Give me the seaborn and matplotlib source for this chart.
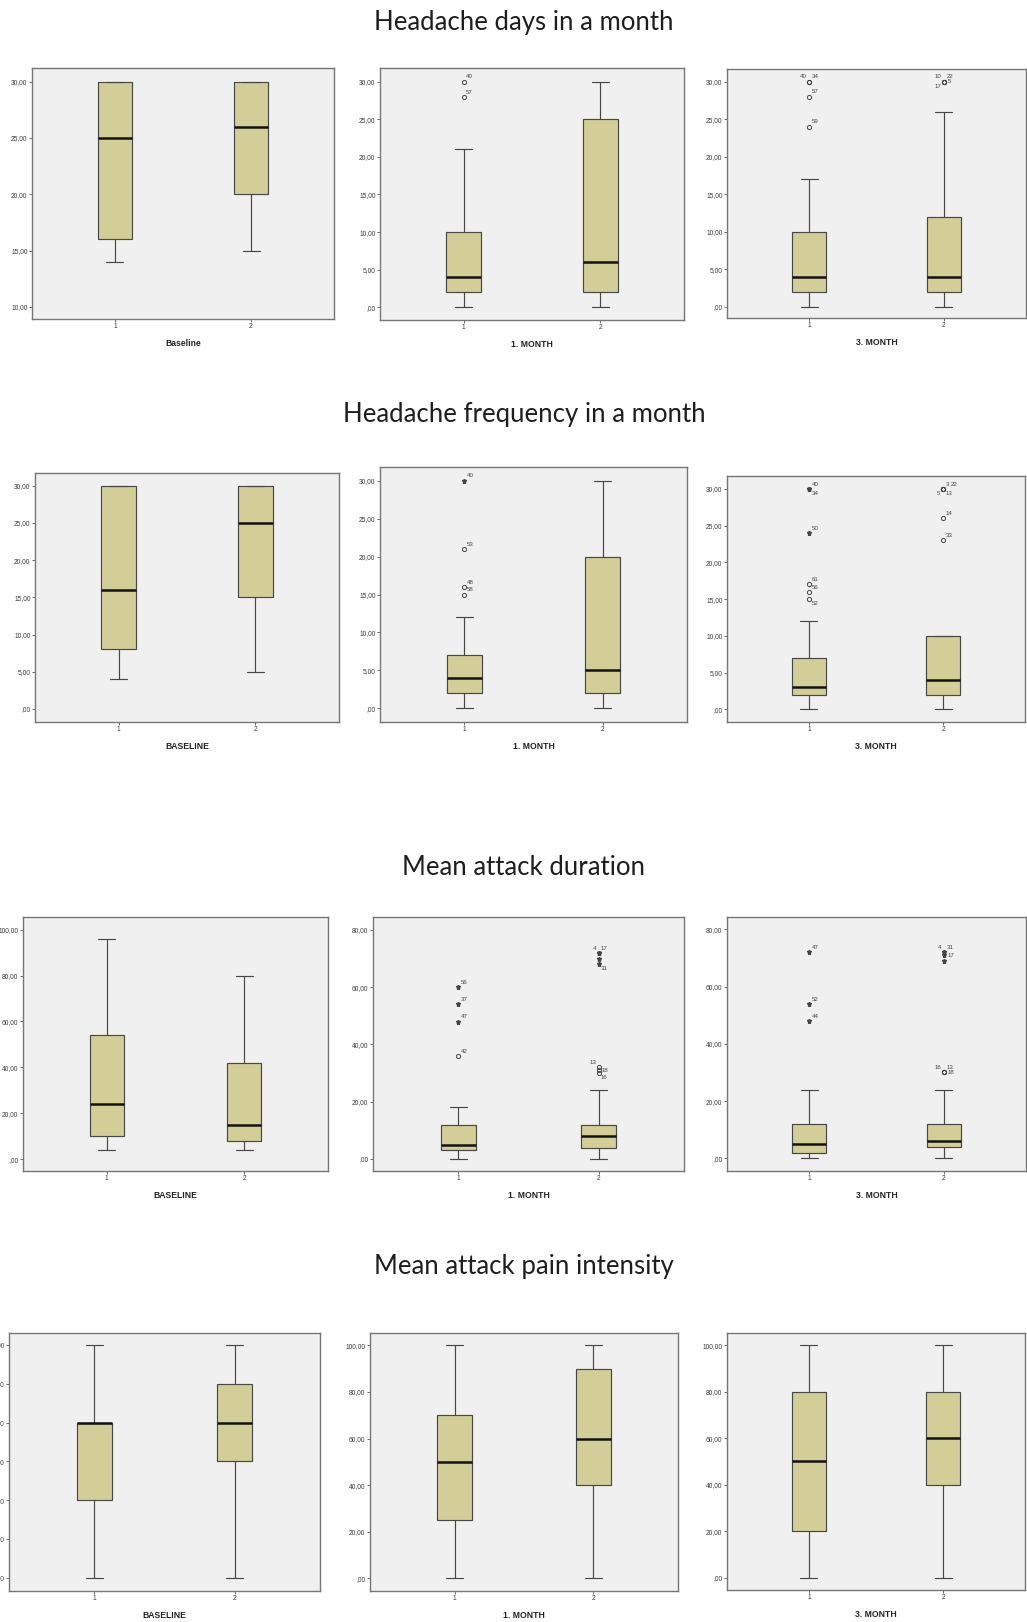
import matplotlib
matplotlib.use("Agg")
import matplotlib.pyplot as plt
from matplotlib.ticker import FixedLocator, FuncFormatter
import pandas as pd
import seaborn as sns

# ---------------------------------------------------------------------------
# Five-number summaries per group: [min, Q1, median, Q3, max]
# ---------------------------------------------------------------------------
GROUPS = ["1", "2"]

# Headache days in a month
days_base_g1 = [14, 16, 25, 30, 30]
days_base_g2 = [15, 20, 26, 30, 30]
days_m1_g1 = [0, 2, 4, 10, 21]
days_m1_g2 = [0, 2, 6, 25, 30]
days_m3_g1 = [0, 2, 4, 10, 17]
days_m3_g2 = [0, 2, 4, 12, 26]

# Headache frequency in a month
freq_base_g1 = [4, 8, 16, 30, 30]
freq_base_g2 = [5, 15, 25, 30, 30]
freq_m1_g1 = [0, 2, 4, 7, 12]
freq_m1_g2 = [0, 2, 5, 20, 30]
freq_m3_g1 = [0, 2, 3, 7, 12]
freq_m3_g2 = [0, 2, 4, 10, 10]

# Mean attack duration
dur_base_g1 = [4, 10, 24, 54, 96]
dur_base_g2 = [4, 8, 15, 42, 80]
dur_m1_g1 = [0, 3, 5, 12, 18]
dur_m1_g2 = [0, 4, 8, 12, 24]
dur_m3_g1 = [0, 2, 5, 12, 24]
dur_m3_g2 = [0, 4, 6, 12, 24]

# Mean attack pain intensity
pain_base_g1 = [4, 6, 8, 8, 10]
pain_base_g2 = [4, 7, 8, 9, 10]
pain_m1_g1 = [0, 25, 50, 70, 100]
pain_m1_g2 = [0, 40, 60, 90, 100]
pain_m3_g1 = [0, 20, 50, 80, 100]
pain_m3_g2 = [0, 40, 60, 80, 100]

# Outlying cases: (group, value, case number, kind) -- "o" mild, "*" extreme
days_m1_out = [("1", 30, "40", "o"), ("1", 28, "57", "o")]
days_m3_out = [("1", 30, "40", "o"), ("1", 30, "34", "o"), ("1", 28, "57", "o"),
               ("1", 24, "59", "o"),
               ("2", 30, "10", "o"), ("2", 30, "22", "o"), ("2", 30, "17", "o"),
               ("2", 30, "5", "o")]
freq_m1_out = [("1", 30, "40", "*"), ("1", 21, "53", "o"), ("1", 16, "48", "o"),
               ("1", 15, "58", "o")]
freq_m3_out = [("1", 30, "40", "*"), ("1", 30, "34", "*"), ("1", 24, "50", "*"),
               ("1", 17, "61", "o"), ("1", 16, "56", "o"), ("1", 15, "52", "o"),
               ("2", 30, "3", "o"), ("2", 30, "22", "o"), ("2", 30, "5", "o"),
               ("2", 30, "13", "o"), ("2", 26, "14", "o"), ("2", 23, "33", "o")]
dur_m1_out = [("1", 60, "56", "*"), ("1", 54, "37", "*"), ("1", 48, "47", "*"),
              ("1", 36, "42", "o"),
              ("2", 72, "4", "*"), ("2", 72, "17", "*"), ("2", 70, "", "*"),
              ("2", 68, "31", "*"), ("2", 32, "13", "o"), ("2", 31, "18", "o"),
              ("2", 30, "16", "o")]
dur_m3_out = [("1", 72, "47", "*"), ("1", 54, "52", "*"), ("1", 48, "44", "*"),
              ("2", 72, "4", "*"), ("2", 72, "31", "*"), ("2", 71, "17", "*"),
              ("2", 69, "", "*"), ("2", 30, "16", "o"), ("2", 30, "13", "o"),
              ("2", 30, "18", "o")]

# Row titles and x-axis labels
ROW_TITLES = ["Headache days in a month", "Headache frequency in a month",
              "Mean attack duration", "Mean attack pain intensity"]
X_LABELS = [["Baseline", "1. MONTH", "3. MONTH"],
            ["BASELINE", "1. MONTH", "3. MONTH"],
            ["BASELINE", "1. MONTH", "3. MONTH"],
            ["BASELINE", "1. MONTH", "3. MONTH"]]

# Y tick values
ticks_days_base = [10, 15, 20, 25, 30]
ticks_0_30 = [0, 5, 10, 15, 20, 25, 30]
ticks_0_100 = [0, 20, 40, 60, 80, 100]
ticks_0_80 = [0, 20, 40, 60, 80]
ticks_pain_base = [4, 5, 6, 7, 8, 9, 10]

PANELS = [
    # key, row, col, group 1, group 2, outliers, y ticks
    ("days_base", 0, 0, days_base_g1, days_base_g2, [], ticks_days_base),
    ("days_m1", 0, 1, days_m1_g1, days_m1_g2, days_m1_out, ticks_0_30),
    ("days_m3", 0, 2, days_m3_g1, days_m3_g2, days_m3_out, ticks_0_30),
    ("freq_base", 1, 0, freq_base_g1, freq_base_g2, [], ticks_0_30),
    ("freq_m1", 1, 1, freq_m1_g1, freq_m1_g2, freq_m1_out, ticks_0_30),
    ("freq_m3", 1, 2, freq_m3_g1, freq_m3_g2, freq_m3_out, ticks_0_30),
    ("dur_base", 2, 0, dur_base_g1, dur_base_g2, [], ticks_0_100),
    ("dur_m1", 2, 1, dur_m1_g1, dur_m1_g2, dur_m1_out, ticks_0_80),
    ("dur_m3", 2, 2, dur_m3_g1, dur_m3_g2, dur_m3_out, ticks_0_80),
    ("pain_base", 3, 0, pain_base_g1, pain_base_g2, [], ticks_pain_base),
    ("pain_m1", 3, 1, pain_m1_g1, pain_m1_g2, [], ticks_0_100),
    ("pain_m3", 3, 2, pain_m3_g1, pain_m3_g2, [], ticks_0_100),
]

# ---------------------------------------------------------------------------
# Layout (pixels on a 1027 x 1622 canvas): left, top, right, bottom
# ---------------------------------------------------------------------------
W, H, DPI = 1027, 1622, 100
FRAMES = {
    (0, 0): (32, 68, 334, 319), (0, 1): (380, 68, 684, 320), (0, 2): (727, 69, 1026, 318),
    (1, 0): (35, 473, 339, 722), (1, 1): (380, 467, 687, 722), (1, 2): (727, 476, 1025, 722),
    (2, 0): (23, 917, 328, 1171), (2, 1): (373, 917, 684, 1171), (2, 2): (727, 917, 1026, 1171),
    (3, 0): (9, 1333, 320, 1591), (3, 1): (370, 1333, 678, 1591), (3, 2): (727, 1333, 1025, 1590),
}
YLIMS = {
    (0, 0): (8.93, 31.22), (0, 1): (-1.69, 31.82), (0, 2): (-1.51, 31.69),
    (1, 0): (-1.75, 31.71), (1, 1): (-1.80, 31.80), (1, 2): (-1.73, 31.77),
    (2, 0): (-5.2, 105.5), (2, 1): (-4.2, 84.5), (2, 2): (-4.4, 84.3),
    (3, 0): (3.66, 10.31), (3, 1): (-5.45, 105.3), (3, 2): (-5.3, 105.2),
}
TITLE_BASELINE = [30, 422, 875, 1274]
TITLE_X = 524

# Placement of case-number labels next to outlying points
LABEL_POS = {
    ("days_m3", "40"): "ul", ("days_m3", "10"): "ul", ("days_m3", "17"): "ll",
    ("days_m3", "5"): "r",
    ("freq_m3", "34"): "lr", ("freq_m3", "22"): "ur2", ("freq_m3", "5"): "ll",
    ("freq_m3", "13"): "lr", ("freq_m3", "52"): "lr",
    ("dur_m1", "4"): "ul", ("dur_m1", "31"): "lr", ("dur_m1", "13"): "ul",
    ("dur_m1", "18"): "r", ("dur_m1", "16"): "lr",
    ("dur_m3", "4"): "ul", ("dur_m3", "17"): "r", ("dur_m3", "16"): "ul",
    ("dur_m3", "18"): "r",
}
OFFSETS = {  # dx, dy (points), ha, va
    "ur": (1.8, 1.6, "left", "bottom"),
    "ur2": (5.2, 1.6, "left", "bottom"),
    "ul": (-1.8, 1.6, "right", "bottom"),
    "r": (2.5, 0.0, "left", "center"),
    "lr": (1.8, -1.6, "left", "top"),
    "ll": (-1.8, -1.6, "right", "top"),
}

# Colours
BOX_FACE = "#D3CE97"
PANEL_BG = "#F0F0F0"
EDGE = "#474747"
FRAME = "#767676"
TEXT = "#3a3a3a"

sns.set_theme(style="ticks")
plt.rcParams["font.family"] = ["Liberation Sans", "DejaVu Sans"]


def spss_number(v, _pos=None):
    s = f"{v:.2f}".replace(".", ",")
    return s[1:] if s.startswith("0,") else s


fig = plt.figure(figsize=(W / DPI, H / DPI), dpi=DPI, facecolor="white")

for key, row, col, g1, g2, outliers, yticks in PANELS:
    left, top, right, bottom = FRAMES[(row, col)]
    ax = fig.add_axes([left / W, 1 - bottom / H, (right - left) / W, (bottom - top) / H])
    ax.set_facecolor(PANEL_BG)

    df = pd.DataFrame({
        "group": [GROUPS[0]] * len(g1) + [GROUPS[1]] * len(g2),
        "value": list(g1) + list(g2),
    })
    sns.boxplot(
        data=df, x="group", y="value", order=GROUPS, ax=ax,
        color=BOX_FACE, saturation=1, width=0.25, whis=(0, 100),
        linecolor=EDGE, linewidth=0.85, fliersize=0,
        medianprops=dict(color="#111111", linewidth=1.8),
    )

    for grp, val, case, kind in outliers:
        xpos = GROUPS.index(grp)
        if kind == "o":
            ax.plot(xpos, val, marker="o", ms=3.0, mfc="none", mec="#444444",
                    mew=0.7, ls="none", zorder=5)
        else:
            ax.plot(xpos, val, marker="*", ms=3.6, color="#444444",
                    ls="none", zorder=5)
        if case:
            dx, dy, ha, va = OFFSETS[LABEL_POS.get((key, case), "ur")]
            ax.annotate(case, (xpos, val), xytext=(dx, dy), textcoords="offset points",
                        ha=ha, va=va, fontsize=4.4, color="#444444", zorder=6)

    ax.set_xlim(-0.61, 1.61)
    ax.set_ylim(*YLIMS[(row, col)])
    ax.yaxis.set_major_locator(FixedLocator(yticks))
    ax.yaxis.set_major_formatter(FuncFormatter(spss_number))
    ax.set_ylabel("")
    ax.set_xlabel(X_LABELS[row][col], fontsize=6.2, fontweight="bold",
                  color="#222222", labelpad=6.5)
    ax.tick_params(axis="both", direction="out", length=2.2, width=0.6,
                   color="#555555", labelsize=4.8, labelcolor=TEXT, pad=1.0)
    for side in ("left", "right", "top", "bottom"):
        ax.spines[side].set_visible(True)
        ax.spines[side].set_color(FRAME)
        ax.spines[side].set_linewidth(1.0)
    ax.grid(False)

for title, ybase in zip(ROW_TITLES, TITLE_BASELINE):
    fig.text(TITLE_X / W, 1 - ybase / H, title, ha="center", va="baseline",
             fontsize=18.5, color="#1e1e1e", family=["Lato", "DejaVu Sans"])

fig.savefig("out.png", dpi=DPI, facecolor="white")
